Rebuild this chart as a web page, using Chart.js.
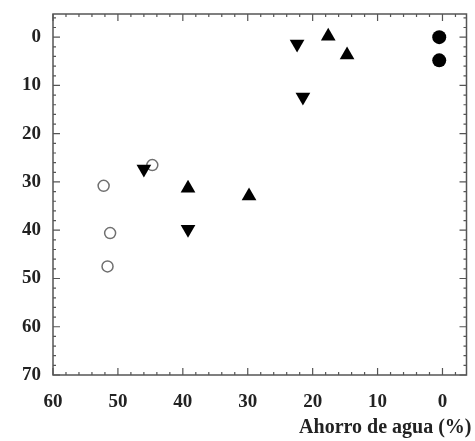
<!DOCTYPE html>
<html>
<head>
<meta charset="utf-8">
<script src="https://cdn.jsdelivr.net/npm/chart.js@4.4.1/dist/chart.umd.min.js"></script>
<style>
    html, body { margin: 0; padding: 0; background: #fff; }
    #wrap { width: 475px; height: 441px; }
</style>
</head>
<body>
<div id="wrap"><canvas id="chart"></canvas></div>
<script>
// x = ahorro de agua (%), y = eje vertical (invertido)
var openCircleX = [52.2, 44.7, 51.2, 51.6];
var openCircleY = [30.8, 26.5, 40.6, 47.5];

var triDownX = [46.0, 39.2, 22.4, 21.5];
var triDownY = [27.3, 39.8, 1.4, 12.4];

var triUpX = [39.2, 29.8, 17.6, 14.7];
var triUpY = [31.3, 32.9, -0.2, 3.7];

var filledCircleX = [0.5, 0.5];
var filledCircleY = [0, 4.8];

var xTicks = [60, 50, 40, 30, 20, 10, 0];
var yTicks = [0, 10, 20, 30, 40, 50, 60, 70];
var xTitle = 'Ahorro de agua (%)';

function toPoints(xs, ys) {
    return xs.map(function (x, i) {
        return {x: x, y: ys[i]};
    });
}

var axisColor = '#555';
var serif = '"Liberation Serif", "DejaVu Serif", serif';
var tickFont = {family: serif, size: 19, weight: 'bold'};

// marcas interiores en los cuatro lados, marco y título del eje x
var framePlugin = {
    id: 'frame',
    afterDraw: function (chart) {
        var ctx = chart.ctx;
        var a = chart.chartArea;
        var xs = chart.scales.x;
        var ys = chart.scales.y;
        ctx.save();
        ctx.strokeStyle = axisColor;
        ctx.lineWidth = 1.5;
        ctx.strokeRect(a.left, a.top, a.right - a.left, a.bottom - a.top);
        ctx.lineWidth = 1.2;
        var v, p, len;
        for (v = 60; v >= -3; v -= 2) {
            p = xs.getPixelForValue(v);
            if (p < a.left || p > a.right) continue;
            len = (v % 10 === 0) ? 7 : 3;
            ctx.beginPath();
            ctx.moveTo(p, a.bottom);
            ctx.lineTo(p, a.bottom - len);
            ctx.moveTo(p, a.top);
            ctx.lineTo(p, a.top + len);
            ctx.stroke();
        }
        for (v = -4; v <= 70; v += 2) {
            p = ys.getPixelForValue(v);
            if (p < a.top || p > a.bottom) continue;
            len = (v % 10 === 0) ? 7 : 3;
            ctx.beginPath();
            ctx.moveTo(a.left, p);
            ctx.lineTo(a.left + len, p);
            ctx.moveTo(a.right, p);
            ctx.lineTo(a.right - len, p);
            ctx.stroke();
        }
        // el título alineado a la derecha (la opción align se invierte con reverse)
        ctx.fillStyle = '#222';
        ctx.font = 'bold 20px ' + serif;
        ctx.textAlign = 'right';
        ctx.textBaseline = 'alphabetic';
        ctx.fillText(xTitle, a.right + 5, xs.bottom - 8);
        ctx.restore();
    }
};

new Chart(document.getElementById('chart'), {
    type: 'scatter',
    data: {
        datasets: [
            {
                label: 'open',
                data: toPoints(openCircleX, openCircleY),
                pointStyle: 'circle',
                pointRadius: 5.5,
                borderWidth: 1.5,
                borderColor: '#707070',
                backgroundColor: 'rgba(255,255,255,0)',
                order: 3
            },
            {
                label: 'down',
                data: toPoints(triDownX, triDownY),
                pointStyle: 'triangle',
                rotation: 180,
                pointRadius: 8.5,
                borderWidth: 0,
                backgroundColor: '#000',
                borderColor: '#000',
                order: 1
            },
            {
                label: 'up',
                data: toPoints(triUpX, triUpY),
                pointStyle: 'triangle',
                pointRadius: 8.5,
                borderWidth: 0,
                backgroundColor: '#000',
                borderColor: '#000',
                order: 1
            },
            {
                label: 'filled',
                data: toPoints(filledCircleX, filledCircleY),
                pointStyle: 'circle',
                pointRadius: 7,
                borderWidth: 0,
                backgroundColor: '#000',
                borderColor: '#000',
                order: 1
            }
        ]
    },
    options: {
        responsive: true,
        maintainAspectRatio: false,
        animation: false,
        layout: {padding: {top: 14, right: 8, left: 0, bottom: 0}},
        plugins: {
            legend: {display: false},
            tooltip: {enabled: false}
        },
        scales: {
            x: {
                type: 'linear',
                reverse: true,
                min: -3.7,
                max: 60,
                afterBuildTicks: function (scale) {
                    scale.ticks = xTicks.map(function (v) { return {value: v}; });
                },
                afterFit: function (scale) {
                    scale.height = 66;
                    scale.paddingLeft = 0;
                    scale.paddingRight = 0;
                },
                grid: {display: false, drawTicks: false},
                border: {display: false},
                ticks: {
                    color: '#222',
                    font: tickFont,
                    padding: 16,
                    maxRotation: 0
                }
            },
            y: {
                type: 'linear',
                reverse: true,
                min: -4.8,
                max: 70,
                afterBuildTicks: function (scale) {
                    scale.ticks = yTicks.map(function (v) { return {value: v}; });
                },
                afterFit: function (scale) {
                    scale.width = 53;
                    scale.paddingTop = 0;
                    scale.paddingBottom = 0;
                },
                grid: {display: false, drawTicks: false},
                border: {display: false},
                ticks: {
                    color: '#222',
                    font: tickFont,
                    padding: 12
                }
            }
        }
    },
    plugins: [framePlugin]
});
</script>
</body>
</html>
